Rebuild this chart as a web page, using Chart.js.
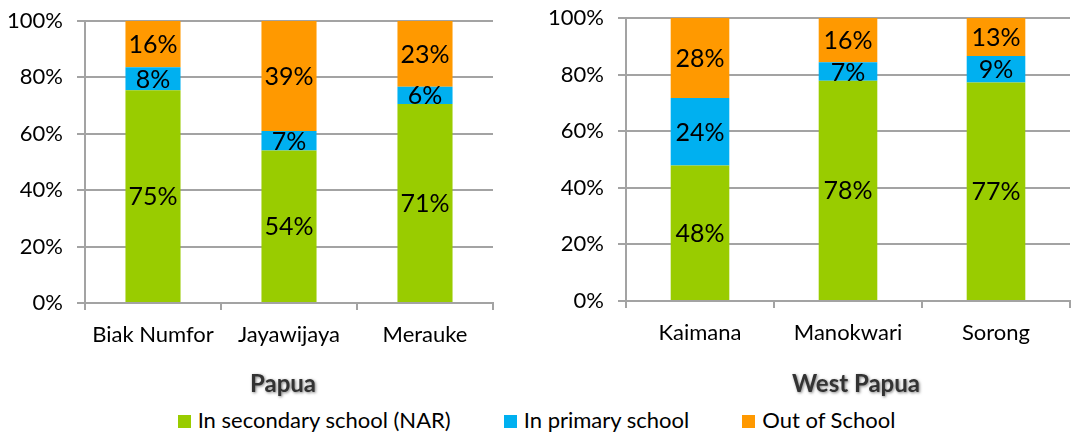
<!DOCTYPE html>
<html lang="en">
<head>
  <meta charset="UTF-8">
  <title>Papua / West Papua school participation</title>
  <script src="https://cdn.jsdelivr.net/npm/chart.js"></script>
  <style>
    body {
      margin: 0;
      width: 1073px;
      height: 435px;
      position: relative;
      background: #fff;
      font-family: Lato, "Open Sans", sans-serif;
      overflow: hidden;
    }
    .chart-box { position: absolute; top: 0; height: 400px; }
    #leftBox { left: 0; width: 540px; }
    #rightBox { left: 540px; width: 533px; }
    #legend {
      position: absolute;
      top: 406px;
      left: 0;
      width: 1073px;
      display: flex;
      justify-content: center;
      gap: 53px;
      font-size: 22px;
      color: #000;
    }
    .item { display: flex; align-items: baseline; }
    .swatch { width: 13px; height: 13px; margin-right: 7px; display: inline-block; }
  </style>
</head>
<body>
  <div class="chart-box" id="leftBox"><canvas id="papuaChart"></canvas></div>
  <div class="chart-box" id="rightBox"><canvas id="westChart"></canvas></div>
  <div id="legend"></div>
  <script>
    // data (percent of children)
    const papuaDistricts = ['Biak Numfor', 'Jayawijaya', 'Merauke'];
    const papuaSecondary = [75.4, 54.1, 70.6];
    const papuaPrimary = [8.2, 6.9, 6.1];
    const papuaOut = [16.4, 39.0, 23.3];

    const westDistricts = ['Kaimana', 'Manokwari', 'Sorong'];
    const westSecondary = [47.9, 77.8, 77.2];
    const westPrimary = [23.8, 6.6, 9.4];
    const westOut = [28.3, 15.6, 13.4];

    const seriesNames = ['In secondary school (NAR)', 'In primary school', 'Out of School'];
    const seriesColors = ['#99CC00', '#00B0F0', '#FF9900'];
    const yTicks = [0, 20, 40, 60, 80, 100];

    const gridGray = '#a3a3a3';
    const fontFamily = 'Lato, "Open Sans", sans-serif';

    // value labels in the middle of each segment
    const segmentLabels = {
      id: 'segmentLabels',
      afterDatasetsDraw(chart) {
        const ctx = chart.ctx;
        ctx.save();
        ctx.font = '25px ' + fontFamily;
        ctx.fillStyle = '#000';
        ctx.textAlign = 'center';
        ctx.textBaseline = 'middle';
        chart.data.datasets.forEach((ds, i) => {
          chart.getDatasetMeta(i).data.forEach((bar, j) => {
            const p = bar.getProps(['x', 'y', 'base'], true);
            ctx.fillText(Math.round(ds.data[j]) + '%', p.x, (p.y + p.base) / 2 + 1);
          });
        });
        ctx.restore();
      }
    };

    // region name under the axis, with the soft shadow of the original
    const regionTitle = {
      id: 'regionTitle',
      afterDraw(chart, args, opts) {
        const ctx = chart.ctx;
        const a = chart.chartArea;
        ctx.save();
        ctx.font = 'bold 24px ' + fontFamily;
        ctx.textAlign = 'center';
        ctx.textBaseline = 'alphabetic';
        ctx.shadowColor = 'rgba(0,0,0,0.5)';
        ctx.shadowBlur = 3;
        ctx.shadowOffsetX = 1;
        ctx.shadowOffsetY = 1;
        ctx.fillStyle = '#333';
        ctx.fillText(opts.text, (a.left + a.right) / 2 + opts.shift, 392);
        ctx.restore();
      }
    };

    function makeChart(id, labels, sec, pri, out, cfg) {
      return new Chart(document.getElementById(id), {
        type: 'bar',
        data: {
          labels: labels,
          datasets: [sec, pri, out].map((vals, i) => ({
            label: seriesNames[i],
            data: vals,
            backgroundColor: seriesColors[i],
            borderWidth: 0,
            categoryPercentage: 1,
            barPercentage: cfg.barPct
          }))
        },
        options: {
          responsive: true,
          maintainAspectRatio: false,
          animation: false,
          layout: { padding: { top: cfg.top, right: cfg.right, left: 0, bottom: 0 } },
          plugins: {
            legend: { display: false },
            tooltip: { enabled: false },
            regionTitle: { text: cfg.title, shift: cfg.shift }
          },
          scales: {
            x: {
              stacked: true,
              grid: {
                offset: true,
                drawOnChartArea: false,
                drawTicks: true,
                tickLength: 7,
                color: gridGray,
                lineWidth: 2
              },
              border: { display: true, color: gridGray, width: 2 },
              ticks: {
                color: '#000',
                padding: 12,
                font: { family: fontFamily, size: 22 }
              },
              afterFit(scale) {
                scale.height = cfg.xHeight;
                scale.paddingLeft = 0;
                scale.paddingRight = 0;
              }
            },
            y: {
              stacked: true,
              min: 0,
              max: 100,
              afterBuildTicks(scale) { scale.ticks = yTicks.map(v => ({ value: v })); },
              grid: {
                color: gridGray,
                lineWidth: 2,
                tickLength: 8
              },
              border: { display: true, color: gridGray, width: 2 },
              ticks: {
                color: '#000',
                padding: 14,
                font: { family: fontFamily, size: 22 },
                callback: v => v + '%'
              },
              afterFit(scale) {
                scale.width = cfg.yWidth;
                scale.paddingTop = 0;
                scale.paddingBottom = 0;
              }
            }
          }
        },
        plugins: [segmentLabels, regionTitle]
      });
    }

    makeChart('papuaChart', papuaDistricts, papuaSecondary, papuaPrimary, papuaOut,
      { barPct: 0.405, top: 21, right: 47, xHeight: 97, yWidth: 85, title: 'Papua', shift: -6 });
    makeChart('westChart', westDistricts, westSecondary, westPrimary, westOut,
      { barPct: 0.396, top: 18, right: 3, xHeight: 99, yWidth: 86, title: 'West Papua', shift: 8 });

    // shared legend below both charts
    const legend = document.getElementById('legend');
    seriesNames.forEach((name, i) => {
      const item = document.createElement('div');
      item.className = 'item';
      const sw = document.createElement('span');
      sw.className = 'swatch';
      sw.style.background = seriesColors[i];
      const txt = document.createElement('span');
      txt.textContent = name;
      item.appendChild(sw);
      item.appendChild(txt);
      legend.appendChild(item);
    });
  </script>
</body>
</html>
